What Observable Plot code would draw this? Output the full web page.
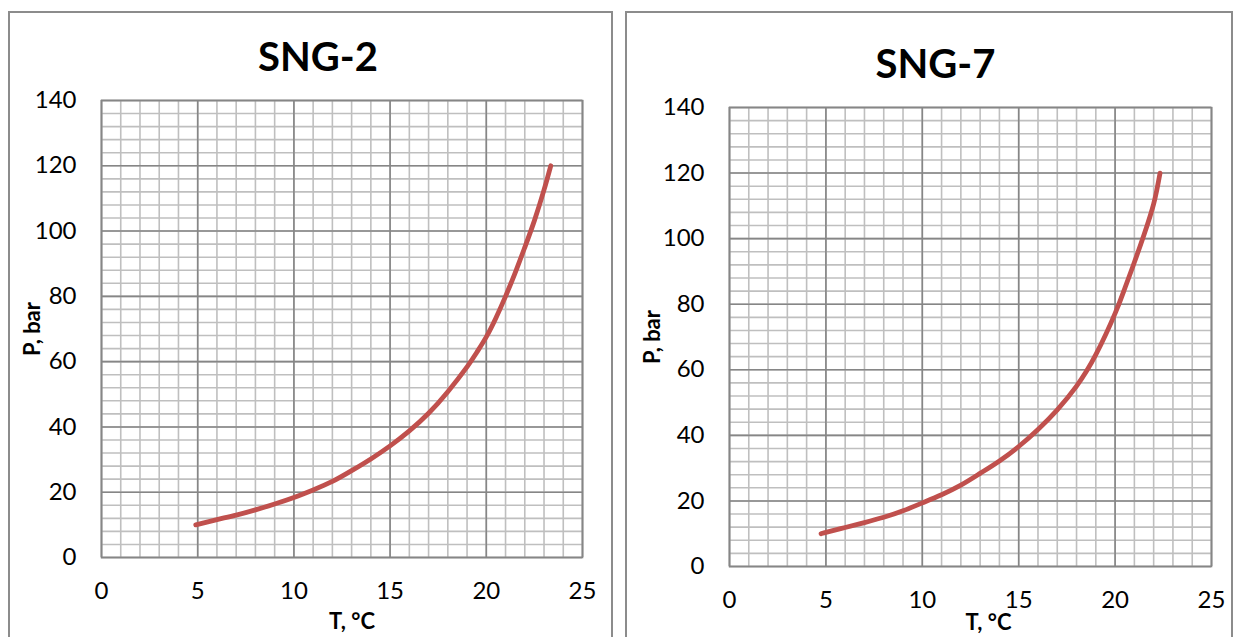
<!DOCTYPE html>
<html>
<head>
<meta charset="utf-8">
<script src="https://cdn.jsdelivr.net/npm/d3@7"></script>
<script src="https://cdn.jsdelivr.net/npm/@observablehq/plot@0.6"></script>
<style>
  html, body { margin: 0; padding: 0; background: #fff; width: 1239px; height: 637px; overflow: hidden; }
  .panel { position: absolute; box-sizing: border-box; border: 2px solid #8c8c8c; background: #fff; }
  .chart { position: absolute; }
</style>
</head>
<body>
<div class="panel" style="left:8px; top:11px; width:605px; height:700px;"></div>
<div class="panel" style="left:625px; top:11px; width:608px; height:700px;"></div>
<div id="c1" class="chart" style="left:10px; top:14px;"></div>
<div id="c2" class="chart" style="left:628px; top:14px;"></div>
<script>
// ---- data ----
const titles = ["SNG-2", "SNG-7"];
const xLabel = "T, °C";
const yLabel = "P, bar";
const xTicks = [0, 5, 10, 15, 20, 25];
const yTicks = [0, 20, 40, 60, 80, 100, 120, 140];
const xMinorStep = 1;
const yMinorStep = 4;

const sng2T = [4.9, 6, 7, 8, 9, 10, 11, 12, 13, 14, 15, 16, 17, 18, 19, 19.5, 20, 20.5, 21, 21.5, 22, 22.5, 23, 23.35];
const sng2P = [10, 11.6, 13, 14.6, 16.4, 18.4, 20.7, 23.3, 26.6, 30.2, 34.2, 38.8, 44.2, 50.8, 58.4, 62.8, 67.6, 73.4, 80, 87.2, 95, 103.2, 112.6, 120];

const sng7T = [4.75, 5, 6, 7, 8, 9, 10, 11, 12, 13, 14, 15, 16, 17, 18, 19, 20, 20.5, 21, 21.5, 22, 22.33];
const sng7P = [10, 10.4, 11.9, 13.4, 15.0, 17.0, 19.4, 21.9, 24.8, 28.4, 32.2, 36.6, 41.8, 47.8, 55.0, 64.6, 77.2, 84.8, 92.8, 101.2, 110.6, 120];

// ---- drawing ----
function chart(T, P, title, o) {
  const data = T.map((t, i) => ({t, p: P[i]}));
  const xMinor = d3.range(xTicks[0], xTicks[xTicks.length - 1] + 1e-9, xMinorStep);
  const yMinor = d3.range(yTicks[0], yTicks[yTicks.length - 1] + 1e-9, yMinorStep);
  return Plot.plot({
    width: o.width,
    height: o.height,
    marginLeft: o.ml, marginRight: o.mr, marginTop: o.mt, marginBottom: o.mb,
    style: {fontFamily: "Lato, 'Open Sans', sans-serif", fontSize: "24px", color: "#000", background: "transparent", overflow: "visible"},
    x: {domain: [0, 25], ticks: xTicks},
    y: {domain: [0, 140], ticks: yTicks},
    marks: [
      Plot.ruleX(xMinor, {stroke: "#bfbfbf", strokeWidth: 1.6}),
      Plot.ruleY(yMinor, {stroke: "#bfbfbf", strokeWidth: 1.6}),
      Plot.ruleX(xTicks, {stroke: "#868686", strokeWidth: 1.6}),
      Plot.ruleY(yTicks, {stroke: "#868686", strokeWidth: 1.6}),
      Plot.frame({stroke: "#868686", strokeWidth: 1.6}),
      Plot.axisX(xTicks, {tickSize: 0, tickPadding: 24, label: null, fontSize: 24}),
      Plot.axisY(yTicks, {tickSize: 0, tickPadding: 25, label: null, fontSize: 24}),
      Plot.line(data, {x: "t", y: "p", stroke: "#c0504d", strokeWidth: 4.8, curve: "natural", strokeLinecap: "round"}),
      Plot.text([title], {frameAnchor: "top", lineAnchor: "middle", textAnchor: "middle", dy: o.tdy, dx: o.tdx, fontSize: 40, fontWeight: "bold"}),
      Plot.text([xLabel], {frameAnchor: "bottom", lineAnchor: "middle", textAnchor: "middle", dy: o.xdy, dx: o.xdx, fontSize: 22, fontWeight: "bold"}),
      Plot.text([yLabel], {frameAnchor: "left", lineAnchor: "middle", textAnchor: "middle", dx: o.ydx, rotate: -90, fontSize: 22, fontWeight: "bold"})
    ]
  });
}

document.getElementById("c1").append(chart(sng2T, sng2P, titles[0], {
  width: 600, height: 623, ml: 91, mr: 28, mt: 86, mb: 80,
  tdy: -42, tdx: -24, xdy: 64, xdx: 10, ydx: -69
}));
document.getElementById("c2").append(chart(sng7T, sng7P, titles[1], {
  width: 602, height: 623, ml: 101, mr: 19, mt: 93, mb: 71,
  tdy: -42, tdx: -35, xdy: 56, xdx: 18, ydx: -77
}));
</script>
</body>
</html>
